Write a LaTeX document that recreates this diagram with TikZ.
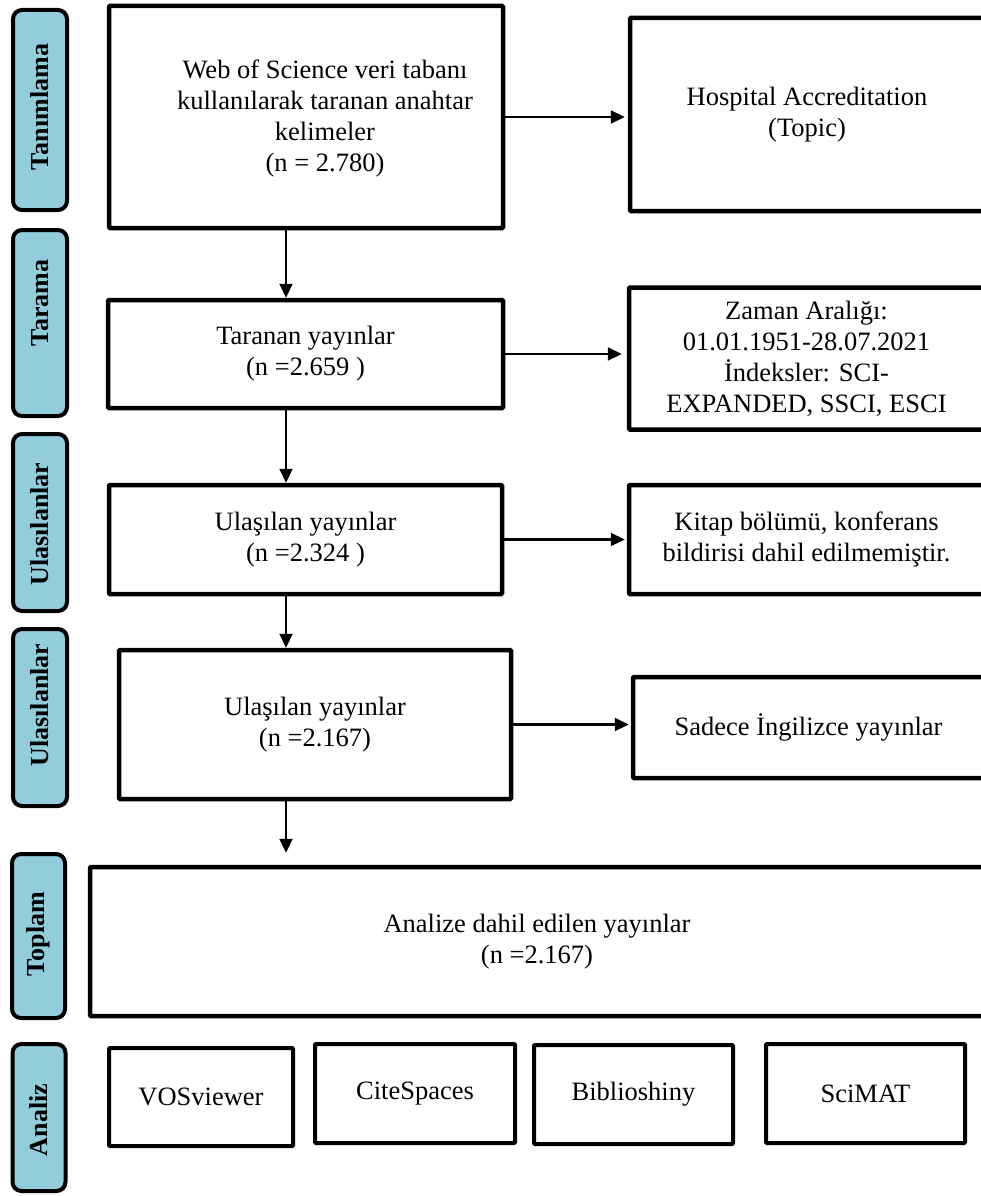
\documentclass[tikz,border=0pt]{standalone}
\usepackage{fontspec}
\setmainfont{Liberation Serif}
\usetikzlibrary{arrows.meta}
\definecolor{sideblue}{RGB}{146,205,220}
\begin{document}
\begin{tikzpicture}[x=1pt,y=-1pt,
  box/.style={draw=black, line width=4.5pt, fill=white, rounded corners=1pt, inner sep=0pt, align=center, font=\fontsize{26.5}{31}\selectfont},
  abox/.style={box, line width=4pt},
  side/.style={draw=black, line width=4pt, fill=sideblue, rounded corners=9pt, inner sep=0pt, minimum width=54pt},
  sidetext/.style={rotate=90, font=\fontsize{26}{30}\selectfont\bfseries, inner sep=0pt},
  txt/.style={align=center, inner sep=0pt, font=\fontsize{26.5}{31}\selectfont},
  arr/.style={line width=2.2pt, -{Triangle[length=14pt,width=13pt]}}]
\useasboundingbox (0,0) rectangle (981,1196);
\fill[white] (0,0) rectangle (981,1196);
\clip (0,0) rectangle (981,1196);

% side labels
\node[side, minimum height=200pt] (l1) at (40,110) {};
\node[sidetext] (t1) at (40,107) {Tanımlama};
\node[side, minimum height=186pt] (l2) at (40,323) {};
\node[sidetext] (t2) at (40,303) {Tarama};
\node[side, minimum height=177pt] (l3) at (40,522.5) {};
\node[sidetext] (t3) at (40,524) {Ulasılanlar};
\node[side, minimum height=177pt] (l4) at (40,717.5) {};
\node[sidetext] (t4) at (40,705) {Ulasılanlar};
\node[side, minimum height=164pt, minimum width=53pt] (l5) at (38.5,936) {};
\node[sidetext] (t5) at (38.5,934) {Toplam};
\node[side, minimum height=147pt, minimum width=53pt] (l6) at (39,1117.5) {};
\node[sidetext] (t6) at (39,1120) {Analiz};

% left column
\node[box, minimum width=394pt, minimum height=222pt] (wos) at (306,117) {};
\node[txt] (wost) at (325,118) {Web of Science veri tabanı\\kullanılarak taranan anahtar\\kelimeler\\(n = 2.780)};
\node[box, minimum width=395pt, minimum height=108pt] (tar) at (305.5,354) {Taranan yayınlar\\(n =2.659 )};
\node[box, minimum width=393pt, minimum height=109pt] (ul1) at (305.5,539.5) {Ulaşılan yayınlar\\(n =2.324 )};
\node[box, minimum width=392pt, minimum height=149pt] (ul2) at (315,724.5) {Ulaşılan yayınlar\\(n =2.167)};
\node[box, minimum width=894pt, minimum height=149pt] (top) at (537,941.5) {Analize dahil edilen yayınlar\\(n =2.167)};

% right column
\node[box, minimum width=354pt, minimum height=193pt] (ha) at (807,114.5) {Hospital Accreditation\\(Topic)};
\node[box, minimum width=355pt, minimum height=142pt] (zam) at (806.5,358.5) {Zaman Aralığı:\\01.01.1951-28.07.2021\\İndeksler: SCI-\\EXPANDED, SSCI, ESCI};
\node[box, minimum width=355pt, minimum height=109pt] (kit) at (806.5,539.5) {Kitap bölümü, konferans\\bildirisi dahil edilmemiştir.};
\node[box, minimum width=351pt, minimum height=101pt] (sad) at (808.5,727.5) {Sadece İngilizce yayınlar};

% analysis tools
\node[abox, minimum width=184pt, minimum height=98pt] (vos) at (201,1097) {VOSviewer};
\node[abox, minimum width=200pt, minimum height=99pt] (cite) at (415,1093.5) {CiteSpaces};
\node[abox, minimum width=199pt, minimum height=99pt] (bib) at (633.5,1094.5) {Biblioshiny};
\node[abox, minimum width=199pt, minimum height=99pt] (sci) at (865.5,1093.5) {SciMAT};

% connectors
\coordinate (ax) at (286,0);
\draw[arr] (ax |- wos.south) -- (ax |- tar.north);
\draw[arr] (ax |- tar.south) -- (ax |- ul1.north);
\draw[arr] (ax |- ul1.south) -- (ax |- ul2.north);
\draw[arr, shorten >=12pt] (ax |- ul2.south) -- (ax |- top.north);

\draw[arr, shorten >=3pt] (wos.east) -- (wos.east -| ha.west);
\draw[arr, shorten >=5pt] (tar.east) -- (tar.east -| zam.west);
\draw[arr, shorten >=2pt] (ul1.east) -- (ul1.east -| kit.west);
\draw[arr, shorten >=2pt] (ul2.east) -- (ul2.east -| sad.west);
\end{tikzpicture}
\end{document}
